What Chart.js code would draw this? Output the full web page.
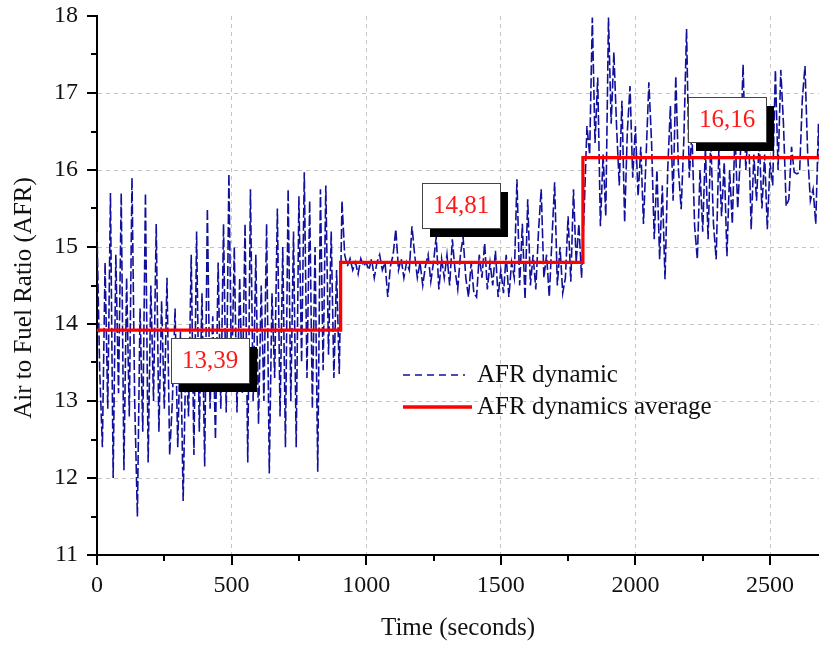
<!DOCTYPE html>
<html><head><meta charset="utf-8">
<script src="https://cdn.jsdelivr.net/npm/chart.js@4.4.1/dist/chart.umd.min.js"></script>
<style>html,body{margin:0;padding:0;background:#fff;overflow:hidden}</style>
</head><body>
<canvas id="c" width="819" height="645" style="display:block;width:819px;height:645px"></canvas>
<script>
// ---- data ----
const timeStepSeconds = 10; // AFR sampled every 10 s, starting at t = 0
const afrDynamic = [
  15.2,13.4,12.4,14.8,12.9,15.7,12.0,14.9,13.1,15.7,
  12.1,14.6,12.8,15.9,13.0,11.5,14.2,12.6,15.7,12.2,
  14.5,13.0,15.3,12.6,14.3,12.9,14.6,12.3,13.0,14.2,
  12.4,13.9,11.7,13.6,12.8,14.9,12.3,15.2,12.6,14.4,
  12.15,15.5,12.9,14.1,12.5,14.8,12.9,15.3,12.85,15.95,
  13.2,15.0,12.85,14.6,13.1,15.3,12.2,15.75,13.0,14.9,
  12.7,14.5,13.0,15.3,12.06,14.4,13.3,15.5,12.8,15.0,
  12.4,15.75,13.0,15.2,12.4,15.66,13.5,15.97,13.3,15.6,
  12.9,15.0,12.08,15.75,13.4,15.8,13.6,15.2,13.3,14.7,
  13.35,
  15.6,14.9,14.75,14.85,14.7,14.8,14.65,14.85,14.75,
  14.8,14.7,14.85,14.6,14.8,14.9,14.7,14.8,14.35,14.75,
  14.9,15.23,14.7,14.85,14.6,14.8,14.7,15.27,14.9,14.6,
  14.8,14.5,14.75,14.9,14.55,14.8,15.13,14.45,14.85,14.6,
  14.9,14.5,15.1,14.7,14.45,14.9,15.13,14.6,14.35,14.8,
  14.4,14.35,14.9,14.6,15.05,14.45,14.8,14.5,14.95,14.35,
  14.7,14.4,14.9,14.35,14.8,14.6,15.88,14.5,15.3,14.32,
  15.62,14.5,14.9,14.45,15.2,15.75,14.6,14.9,14.35,15.1,
  15.84,14.5,15.0,14.4,14.6,15.4,14.55,15.75,14.8,15.3,
  14.6,
  15.5,16.57,16.2,17.98,16.35,17.2,15.27,16.2,15.4,
  17.98,16.6,17.53,16.57,15.8,16.9,15.32,16.5,17.09,15.9,
  16.57,15.66,16.3,15.3,16.2,17.14,16.36,15.1,16.0,14.84,
  15.8,14.58,16.0,16.83,15.6,17.22,16.0,15.49,16.4,17.83,
  15.9,16.5,15.27,14.84,16.0,15.2,16.3,15.1,16.4,15.3,
  14.84,16.27,15.4,16.1,14.88,16.0,15.3,16.5,15.5,16.2,
  17.37,16.0,16.6,15.23,16.2,15.6,16.4,15.5,16.2,15.23,
  16.1,15.8,17.3,16.0,17.3,16.6,15.53,15.62,16.3,15.97,
  15.95,15.97,16.92,17.35,16.2,15.6,15.75,15.3,16.6,15.4
];
const avgTimes  = [0, 905, 1805, 2690];
const avgValues = [13.92, 14.80, 16.16, 16.16];
const avgLabelText = ['13,39', '14,81', '16,16'];
const avgLabelTime = [420, 1352, 2342];
const avgLabelAfr  = [13.53, 15.54, 16.66];
const seriesNames = ['AFR dynamic', 'AFR dynamics average'];
const xTickValues = [0, 500, 1000, 1500, 2000, 2500];
const yTickValues = [11, 12, 13, 14, 15, 16, 17, 18];
const xTitle = 'Time (seconds)';
const yTitle = 'Air to Fuel Ratio (AFR)';

// ---- build ----
const dynPoints = afrDynamic.map((v, i) => ({x: i * timeStepSeconds, y: v}));
const avgPoints = avgTimes.map((t, i) => ({x: t, y: avgValues[i]}));
const SERIF = '"Liberation Serif", "Times New Roman", serif';
const BLUE = '#10109c';

const decorPlugin = {
  id: 'decor',
  afterDraw(chart) {
    const ctx = chart.ctx, xs = chart.scales.x, ys = chart.scales.y, ca = chart.chartArea;
    ctx.save();
    ctx.strokeStyle = '#000'; ctx.lineWidth = 2;
    for (let v = 11; v <= 18.001; v += 0.5) {
      const y = Math.round(ys.getPixelForValue(v));
      const major = Math.abs(v - Math.round(v)) < 1e-6;
      ctx.beginPath(); ctx.moveTo(ca.left, y); ctx.lineTo(ca.left - (major ? 10 : 6), y); ctx.stroke();
    }
    for (let v = 0; v <= xs.max; v += 250) {
      const x = Math.round(xs.getPixelForValue(v));
      const major = v % 500 === 0;
      ctx.beginPath(); ctx.moveTo(x, ca.bottom); ctx.lineTo(x, ca.bottom + (major ? 10 : 6)); ctx.stroke();
    }
    ctx.fillStyle = '#111';
    ctx.font = '25px ' + SERIF;
    ctx.textAlign = 'center'; ctx.textBaseline = 'middle';
    ctx.translate(24, 298); ctx.rotate(-Math.PI / 2);
    ctx.fillText(yTitle, 0, 0);
    ctx.restore();
  },
  afterDatasetsDraw(chart) {
    const ctx = chart.ctx, xs = chart.scales.x, ys = chart.scales.y, ca = chart.chartArea;
    ctx.save();
    const w = 78, h = 45;
    avgLabelText.forEach((txt, i) => {
      const cx = xs.getPixelForValue(avgLabelTime[i]);
      const cy = ys.getPixelForValue(avgLabelAfr[i]);
      const l = Math.round(cx - w / 2), t = Math.round(cy - h / 2);
      ctx.fillStyle = '#000';
      ctx.fillRect(l + 8, t + 9, w, h);
      ctx.fillStyle = '#fff';
      ctx.fillRect(l, t, w, h);
      ctx.strokeStyle = '#444'; ctx.lineWidth = 1;
      ctx.strokeRect(l + 0.5, t + 0.5, w, h);
      ctx.fillStyle = '#ff1a1a';
      ctx.font = '25px ' + SERIF;
      ctx.textAlign = 'center'; ctx.textBaseline = 'middle';
      ctx.fillText(txt, l + w / 2, t + h / 2 + 1);
    });
    const lx = ca.left + 306, ly1 = ca.top + 359, ly2 = ca.top + 391;
    ctx.strokeStyle = BLUE; ctx.lineWidth = 1.4; ctx.setLineDash([7, 5]);
    ctx.beginPath(); ctx.moveTo(lx, ly1); ctx.lineTo(lx + 62, ly1); ctx.stroke();
    ctx.setLineDash([]);
    ctx.strokeStyle = '#ff0000'; ctx.lineWidth = 3.5;
    ctx.beginPath(); ctx.moveTo(lx, ly2); ctx.lineTo(lx + 69, ly2); ctx.stroke();
    ctx.fillStyle = '#111'; ctx.font = '25px ' + SERIF;
    ctx.textAlign = 'left'; ctx.textBaseline = 'middle';
    ctx.fillText(seriesNames[0], lx + 74, ly1);
    ctx.fillText(seriesNames[1], lx + 74, ly2);
    ctx.restore();
  }
};

new Chart(document.getElementById('c'), {
  type: 'line',
  data: {
    datasets: [
      { label: seriesNames[1], data: avgPoints, borderColor: '#ff0000', borderWidth: 3.2,
        stepped: 'before', pointRadius: 0, fill: false, order: 0 },
      { label: seriesNames[0], data: dynPoints, borderColor: BLUE, borderWidth: 1.6,
        borderDash: [10, 3], pointRadius: 0, tension: 0, fill: false, order: 1 }
    ]
  },
  options: {
    responsive: false, animation: false, devicePixelRatio: 1,
    layout: { padding: { top: 16, right: 0, left: 0, bottom: 0 } },
    plugins: { legend: { display: false }, tooltip: { enabled: false } },
    scales: {
      x: {
        type: 'linear', min: 0, max: 2682,
        afterFit(s) { s.height = 90; s.paddingLeft = 0; s.paddingRight = 0; },
        afterBuildTicks(s) { s.ticks = xTickValues.map(v => ({value: v})); },
        ticks: { autoSkip: false, maxRotation: 0, padding: 16, color: '#111',
                 font: { family: SERIF, size: 24 }, callback: v => String(v) },
        grid: { drawTicks: false, lineWidth: 1,
                color: c => (c.tick && c.tick.value === 0) ? 'rgba(0,0,0,0)' : '#c4c4c4' },
        border: { display: true, color: '#000', width: 2, dash: [4, 4] },
        title: { display: true, text: xTitle, color: '#111', font: { family: SERIF, size: 25 },
                 padding: { top: 0, bottom: 2 } }
      },
      y: {
        type: 'linear', min: 11, max: 18,
        afterFit(s) { s.width = 97; s.paddingTop = 0; s.paddingBottom = 0; },
        afterBuildTicks(s) { s.ticks = yTickValues.map(v => ({value: v})); },
        ticks: { padding: 19, color: '#111', font: { family: SERIF, size: 24 }, callback: v => String(v) },
        grid: { drawTicks: false, lineWidth: 1,
                color: c => (c.tick && (c.tick.value === 11 || c.tick.value === 18)) ? 'rgba(0,0,0,0)' : '#c4c4c4' },
        border: { display: true, color: '#000', width: 2, dash: [4, 4] }
      }
    }
  },
  plugins: [decorPlugin]
});
</script>
</body></html>
